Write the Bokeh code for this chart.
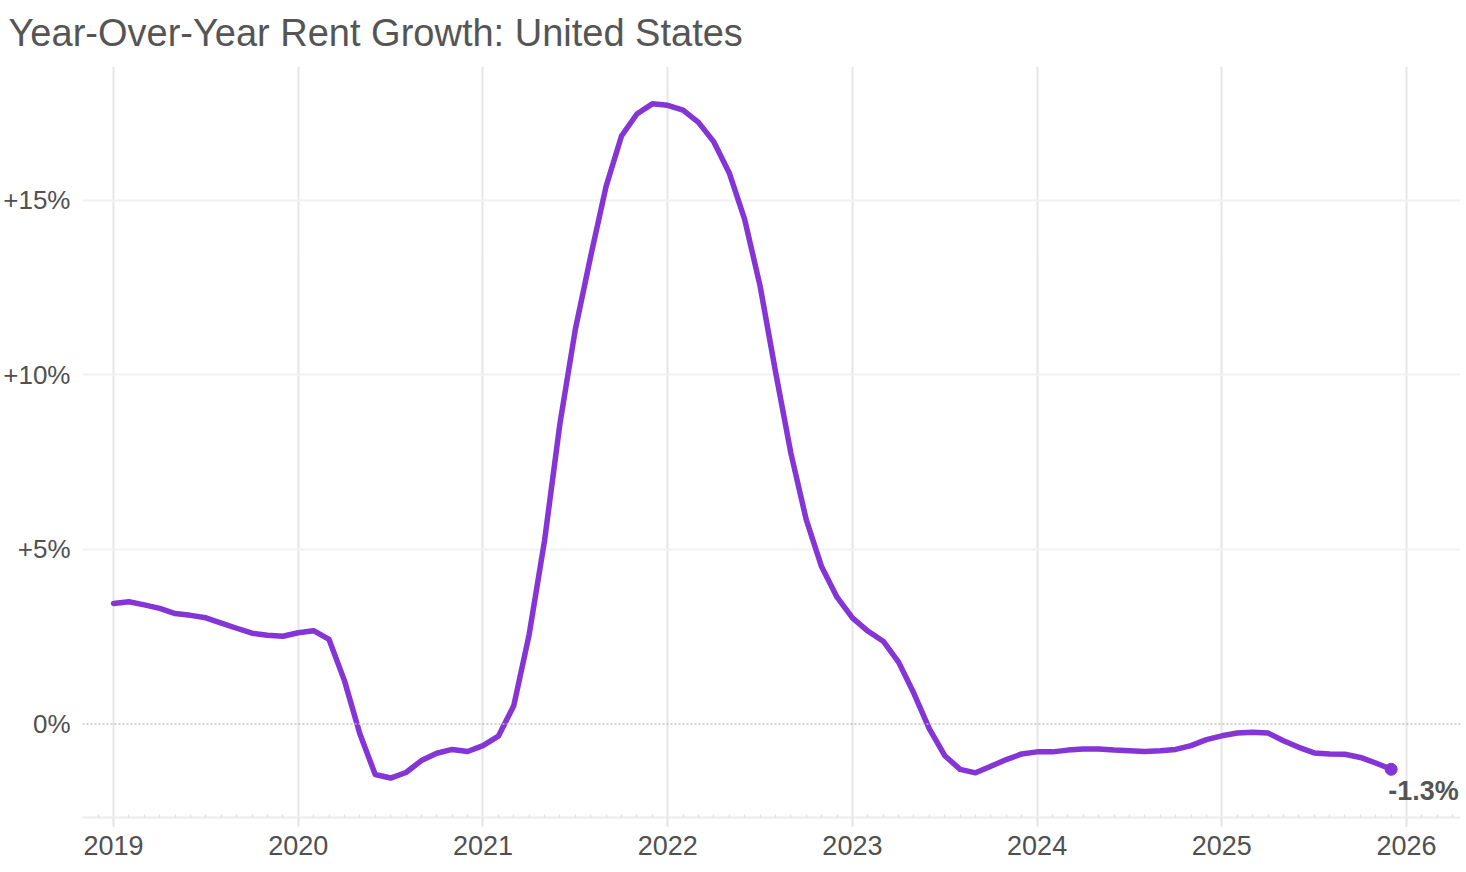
from bokeh.plotting import figure
from bokeh.models import FixedTicker, Span, Label, ColumnDataSource, Range1d
from bokeh.embed import file_html
from bokeh.resources import INLINE

# ---- data (year-over-year rent growth, %, monthly Jan 2019 .. Dec 2025) ----
years = [2019, 2020, 2021, 2022, 2023, 2024, 2025]
growth_2019 = [3.45, 3.50, 3.41, 3.31, 3.16, 3.11, 3.04, 2.89, 2.74, 2.60, 2.54, 2.51]
growth_2020 = [2.61, 2.67, 2.42, 1.24, -0.28, -1.45, -1.55, -1.39, -1.05, -0.84, -0.73, -0.79]
growth_2021 = [-0.62, -0.35, 0.52, 2.56, 5.25, 8.60, 11.30, 13.40, 15.40, 16.84, 17.47, 17.76]
growth_2022 = [17.72, 17.58, 17.23, 16.67, 15.78, 14.45, 12.55, 10.10, 7.76, 5.85, 4.50, 3.63]
growth_2023 = [3.04, 2.66, 2.37, 1.77, 0.87, -0.14, -0.91, -1.30, -1.40, -1.21, -1.02, -0.86]
growth_2024 = [-0.80, -0.80, -0.75, -0.72, -0.72, -0.75, -0.77, -0.79, -0.77, -0.73, -0.62, -0.45]
growth_2025 = [-0.34, -0.26, -0.24, -0.26, -0.48, -0.67, -0.83, -0.86, -0.87, -0.96, -1.12, -1.30]

year_ticks = [2019, 2020, 2021, 2022, 2023, 2024, 2025, 2026]
y_ticks = [0, 5, 10, 15]
y_tick_labels = ["0%", "+5%", "+10%", "+15%"]
title_text = "Year-Over-Year Rent Growth: United States"

values = (growth_2019 + growth_2020 + growth_2021 + growth_2022 +
          growth_2023 + growth_2024 + growth_2025)
dates = [y + m / 12.0 for y in years for m in range(12)]

LINE_COLOR = "#8535d6"
TEXT_COLOR = "#505050"
FONT = "Liberation Sans"

source = ColumnDataSource(data=dict(x=dates, y=values))

p = figure(width=1466, height=872, output_backend="svg", toolbar_location=None,
           x_range=Range1d(2018.832, 2026.292), y_range=Range1d(-2.68, 18.83),
           min_border_left=82, min_border_right=6, min_border_top=66,
           min_border_bottom=55)
p.outline_line_color = None
p.background_fill_color = "white"
p.border_fill_color = "white"

# title
p.title.text = title_text
p.title.text_font = FONT
p.title.text_font_size = "38px"
p.title.text_font_style = "normal"
p.title.text_color = "#555555"
p.title.align = "left"
p.title.vertical_align = "top"
p.title.offset = -74
p.title.standoff = 22

# x axis
xa = p.xaxis[0]
minor = [2018 + 11 / 12.0] + [y + m / 12.0 for y in range(2019, 2026) for m in range(1, 12)] + \
        [2026 + 1 / 12.0, 2026 + 2 / 12.0, 2026 + 3 / 12.0]
xa.ticker = FixedTicker(ticks=year_ticks, minor_ticks=minor)
xa.major_label_overrides = {t: str(t) for t in year_ticks}
xa.axis_line_color = "#ececec"
xa.axis_line_width = 2
xa.major_tick_line_color = "#e3e3e3"
xa.major_tick_line_width = 2
xa.major_tick_in = 0
xa.major_tick_out = 9
xa.minor_tick_line_color = "#e2e2e2"
xa.minor_tick_line_width = 1.5
xa.minor_tick_in = 3
xa.minor_tick_out = 0
xa.major_label_standoff = 9
xa.major_label_text_font = FONT
xa.major_label_text_font_size = "27px"
xa.major_label_text_color = TEXT_COLOR

# y axis
ya = p.yaxis[0]
ya.ticker = FixedTicker(ticks=y_ticks)
ya.major_label_overrides = dict(zip(y_ticks, y_tick_labels))
ya.axis_line_color = None
ya.major_tick_line_color = None
ya.minor_tick_line_color = None
ya.major_tick_in = 0
ya.major_tick_out = 0
ya.minor_tick_in = 0
ya.minor_tick_out = 0
ya.major_label_standoff = 12
ya.major_label_text_font = FONT
ya.major_label_text_font_size = "26px"
ya.major_label_text_color = TEXT_COLOR

# grids
p.xgrid.ticker = FixedTicker(ticks=year_ticks)
p.xgrid.grid_line_color = "#e6e6e6"
p.xgrid.grid_line_width = 2
p.ygrid.ticker = FixedTicker(ticks=[t for t in y_ticks if t != 0])
p.ygrid.grid_line_color = "#f1f1f1"
p.ygrid.grid_line_width = 2

zero = Span(location=0, dimension="width", line_color="#bdbdbd",
            line_width=1.5, line_dash="2 2")
p.add_layout(zero)

# series
p.line("x", "y", source=source, line_color=LINE_COLOR, line_width=5.5,
       line_join="round", line_cap="round")
p.scatter(x=[dates[-1]], y=[values[-1]], size=12, color=LINE_COLOR)

lab = Label(x=dates[-1], y=values[-1], text=f"{values[-1]:.1f}%",
            x_offset=-3, y_offset=-7, text_baseline="top", text_align="left",
            text_font=FONT, text_font_size="27px", text_font_style="bold",
            text_color="#555555")
p.add_layout(lab)

open("out.html", "w").write(file_html(p, INLINE))
